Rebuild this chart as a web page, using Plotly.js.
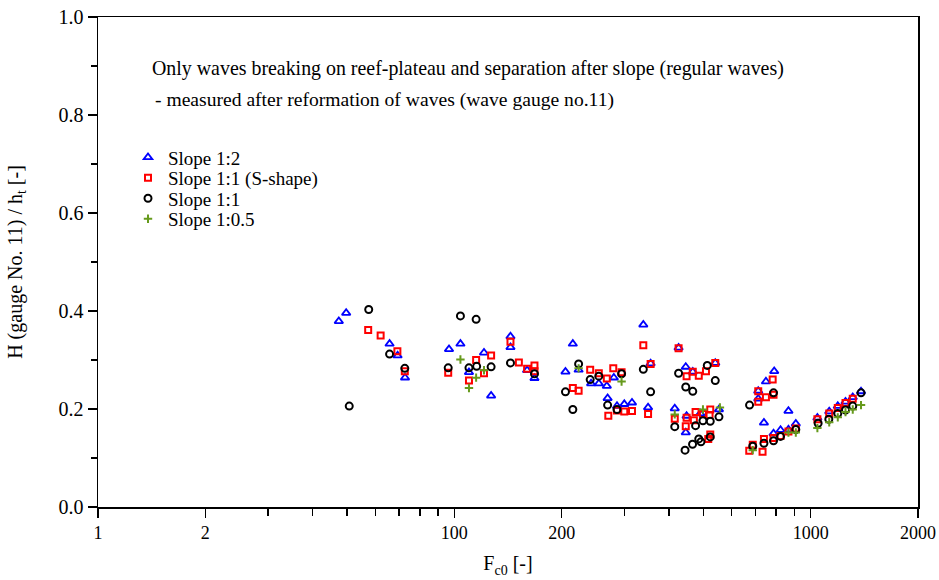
<!DOCTYPE html>
<html><head><meta charset="utf-8">
<script src="https://cdn.plot.ly/plotly-3.0.1.min.js"></script>
<style>html,body{margin:0;padding:0;background:#fff}#chart{width:939px;height:580px}</style>
</head><body><div id="chart"></div>
<script>
// Slope 1:2 (blue triangles)
const slope12X = [47.4,49.7,65.8,69.3,72.7,96.6,104.0,109.9,121.1,126.8,143.7,143.7,160.0,167.8,
  205.0,215.0,223.2,241.9,254.3,267.8,280.2,269.2,286.0,299.8,315.1,339.0,349.6,355.4,415.4,425.8,
  446.0,448.4,446.0,466.7,490,539.7,552.7,712.4,712.4,748.7,789.8,739.1,865.9,786.3,822.8,908.2,865.9,
  1044,1127,1191,1252,1312,1384];
const slope12Y = [0.379,0.396,0.333,0.309,0.264,0.322,0.333,0.275,0.315,0.227,0.348,0.326,0.279,0.263,
  0.276,0.333,0.280,0.252,0.252,0.247,0.264,0.222,0.206,0.210,0.213,0.372,0.203,0.293,0.201,0.325,
  0.286,0.186,0.152,0.276,0.191,0.294,0.199,0.237,0.221,0.256,0.277,0.172,0.196,0.150,0.157,0.170,0.158,
  0.182,0.195,0.206,0.215,0.224,0.236];
// Slope 1:1 (S-shape) (red squares)
const slope11sX = [57.3,62.1,69.2,72.6,96.1,109.9,115.1,121.1,126.8,143.7,151.7,160.0,167.8,167.8,
  215.0,223.2,240.5,254.3,267.8,279.2,294.6,270.4,286.0,299.8,315.1,339.0,349.6,355.4,415.4,425.8,
  448.4,466.7,485.1,508.2,539.7,448.4,446.0,470,475.2,498.4,522.5,520.1,522.5,515.8,
  672.2,687.6,732.5,739.1,786.3,822.8,865.9,908.2,712.4,712.4,748.7,782,786.3,
  1044,1127,1191,1252,1312];
const slope11sY = [0.361,0.350,0.318,0.277,0.274,0.258,0.300,0.273,0.309,0.337,0.295,0.282,0.289,0.277,
  0.243,0.237,0.280,0.273,0.262,0.283,0.275,0.186,0.197,0.195,0.196,0.330,0.190,0.292,0.180,0.324,
  0.267,0.276,0.268,0.277,0.294,0.182,0.165,0.177,0.194,0.190,0.199,0.188,0.148,0.139,
  0.115,0.127,0.113,0.139,0.141,0.145,0.154,0.160,0.236,0.215,0.224,0.260,0.229,
  0.179,0.191,0.202,0.212,0.221];
// Slope 1:1 (black circles)
const slope11X = [50.7,57.5,65.8,72.6,104.0,115.1,96.1,109.9,115.5,126.8,143.7,167.8,
  205.0,215.0,223.2,240.5,254.3,294.6,269.2,286.0,339.0,355.4,415.4,425.8,446.0,466.7,512.5,539.7,
  444,466,485.1,492.0,475.2,498.4,522.5,552.7,522.5,
  673.5,786.3,687.6,739.1,786.3,822.8,908.2,
  1049,1124,1191,1252,1312,1384];
const slope11Y = [0.206,0.403,0.312,0.283,0.390,0.383,0.284,0.284,0.287,0.286,0.294,0.272,
  0.235,0.199,0.292,0.260,0.267,0.272,0.208,0.199,0.281,0.235,0.164,0.273,0.245,0.236,0.289,0.258,
  0.116,0.128,0.139,0.133,0.166,0.176,0.175,0.184,0.143,
  0.208,0.233,0.124,0.130,0.135,0.144,0.158,
  0.171,0.179,0.191,0.198,0.206,0.233];
// Slope 1:0.5 (green crosses)
const slope105X = [104.0,109.9,115.1,121.1,223.2,294.6,415.4,498.4,556.2,687.6,865.9,908.2,
  1044,1127,1191,1252,1312,1384];
const slope105Y = [0.301,0.243,0.264,0.279,0.283,0.256,0.189,0.199,0.203,0.116,0.152,0.152,
  0.161,0.173,0.183,0.194,0.199,0.208];

const seriesNames = ["Slope 1:2", "Slope 1:1 (S-shape)", "Slope 1:1", "Slope 1:0.5"];
const xTickVals = [10,20,100,200,1000,2000];
const xTickText = ["1","2","100","200","1000","2000"];
const xMinorVals = [30,40,50,60,70,80,90,300,400,500,600,700,800,900];

const FONT = "Liberation Serif";

const traces = [
  {x: slope12X, y: slope12Y, name: seriesNames[0], legend: "legend", type: "scatter", mode: "markers",
   marker: {symbol: "triangle-up-open", size: 7.5, color: "#0000ff", line: {width: 1.8, color: "#0000ff"}}},
  {x: slope11sX, y: slope11sY, name: seriesNames[1], legend: "legend2", type: "scatter", mode: "markers",
   marker: {symbol: "square-open", size: 6, color: "#ff0000", line: {width: 2, color: "#ff0000"}}},
  {x: slope11X, y: slope11Y, name: seriesNames[2], legend: "legend3", type: "scatter", mode: "markers",
   marker: {symbol: "circle-open", size: 7, color: "#000000", line: {width: 2, color: "#000000"}}},
  {x: slope105X, y: slope105Y, name: seriesNames[3], legend: "legend4", type: "scatter", mode: "markers",
   marker: {symbol: "cross-thin-open", size: 6, color: "#669a1c", line: {width: 2, color: "#669a1c"}}}
];

function legendAt(centerPx) {
  return {x: (128 - 98) / 820, y: (506.7 - (centerPx - 19)) / 489.4, xanchor: "left", yanchor: "top",
          bgcolor: "rgba(0,0,0,0)", borderwidth: 0, font: {family: FONT, size: 19, color: "#000"}, itemwidth: 30};
}

const layout = {
  width: 939, height: 580,
  margin: {l: 98, r: 21, t: 17, b: 73},
  paper_bgcolor: "#ffffff", plot_bgcolor: "#ffffff",
  font: {family: FONT, size: 18, color: "#000"},
  showlegend: true,
  legend: legendAt(157.5),
  legend2: legendAt(178),
  legend3: legendAt(198.5),
  legend4: legendAt(219),
  xaxis: {type: "log", range: [1, Math.log10(2000)], tickmode: "array", tickvals: xTickVals, ticktext: xTickText,
          showgrid: false, zeroline: false, showline: true, linecolor: "#000", linewidth: 1.5, mirror: true,
          ticks: "outside", ticklen: 9, tickwidth: 1.5, tickcolor: "#000",
          tickfont: {family: FONT, size: 18},
          minor: {tickmode: "array", tickvals: xMinorVals, ticks: "outside", ticklen: 7, tickwidth: 1.5, tickcolor: "#000", showgrid: false},
          title: {text: "F<sub>c0</sub> [-]", font: {family: FONT, size: 20}, standoff: 14}},
  yaxis: {range: [0, 1], tickmode: "linear", tick0: 0, dtick: 0.2, tickformat: ".1f",
          showgrid: false, zeroline: false, showline: true, linecolor: "#000", linewidth: 1.5, mirror: true,
          ticks: "outside", ticklen: 9, tickwidth: 1.5, tickcolor: "#000",
          tickfont: {family: FONT, size: 20},
          minor: {dtick: 0.1, ticks: "outside", ticklen: 6, tickwidth: 1.5, tickcolor: "#000", showgrid: false},
          title: {text: "H (gauge No. 11) / h<sub>t</sub> [-]", font: {family: FONT, size: 20}, standoff: 30}},
  annotations: [
    {xref: "paper", yref: "paper", x: (150-98)/820, y: (506.7-69)/489.4, xanchor: "left", yanchor: "middle",
     showarrow: false, text: "Only waves breaking on reef-plateau and separation after slope (regular waves)",
     font: {family: FONT, size: 19.9, color: "#000"}},
    {xref: "paper", yref: "paper", x: (153-98)/820, y: (506.7-100.5)/489.4, xanchor: "left", yanchor: "middle",
     showarrow: false, text: "- measured after reformation of waves (wave gauge no.11)",
     font: {family: FONT, size: 19.6, color: "#000"}}
  ]
};

Plotly.newPlot("chart", traces, layout, {displayModeBar: false, staticPlot: true});
</script>
</body></html>
